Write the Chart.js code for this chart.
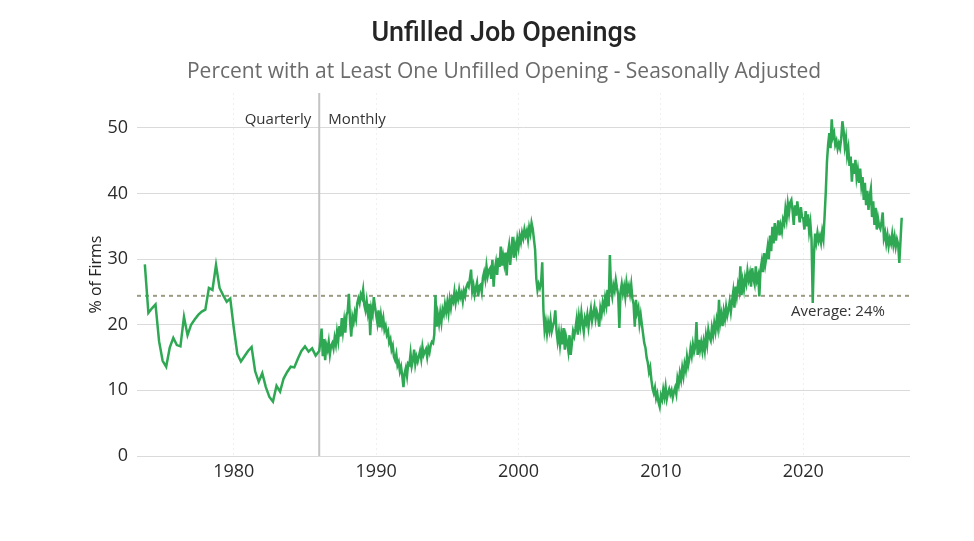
<!DOCTYPE html>
<html>
<head>
<meta charset="utf-8">
<title>Unfilled Job Openings</title>
<script src="https://cdn.jsdelivr.net/npm/chart.js@4.4.1/dist/chart.umd.min.js"></script>
<style>
  body { margin: 0; background: #fff; }
  #newChart { display: block; }
</style>
</head>
<body>
<canvas id="newChart" width="974" height="541"></canvas>
<script>
var titleText = 'Unfilled Job Openings';
var subtitleText = 'Percent with at Least One Unfilled Opening - Seasonally Adjusted';
var yAxisLabel = '% of Firms';

// quarterly survey, Q4 1973 to Q4 1985
var quarterlyStart = 1973.75;
var quarterlyValues = [
  29.2,
  21.8, 22.5, 23.1, 17.5,
  14.5, 13.6, 16.5, 18.0,
  16.9, 16.7, 21.2, 18.4,
  20.0, 20.8, 21.5, 22.0,
  22.3, 25.6, 25.3, 29.1,
  25.6, 24.5, 23.5, 24.0,
  19.5, 15.5, 14.4, 15.2,
  16.0, 16.6, 12.9, 11.3,
  12.6, 10.5, 9.0, 8.3,
  10.7, 9.8, 11.8, 12.8,
  13.6, 13.5, 14.8, 16.0,
  16.7, 15.9, 16.4, 15.3
];

// monthly survey from 1986, one row per year
var monthlyStart = 1986;
var monthlyValues = [
  16.0, 17.5, 19.4, 15.2, 17.8, 14.6, 16.9, 16.2, 17.4, 15.5, 16.8, 17.2,
  16.4, 18.0, 17.0, 18.9, 17.6, 19.8, 18.2, 21.0, 19.0, 20.6, 18.8, 21.5,
  22.0, 24.7, 20.5, 18.2, 21.2, 20.4, 21.8, 20.9, 23.2, 24.0, 23.3, 24.6,
  24.1, 25.3, 23.0, 22.2, 23.6, 21.9, 23.2, 18.4, 22.4, 21.6, 24.2, 22.8,
  21.5, 20.3, 22.2, 19.6, 21.4, 20.0, 21.0, 19.2, 19.8, 18.5, 19.0, 17.3,
  17.8, 16.2, 16.8, 15.1, 14.6, 15.5, 13.8, 14.3, 12.9, 13.6, 12.2, 10.5,
  12.6, 13.4, 12.2, 14.1, 13.9, 15.6, 13.7, 14.6, 16.2, 14.0, 15.1, 14.4,
  15.2, 16.0, 14.8, 16.6, 15.4, 15.9, 16.3, 15.1, 16.5, 15.8, 16.9, 17.4,
  17.2, 18.5, 24.5, 19.7, 21.5, 20.2, 21.8, 20.4, 22.3, 21.6, 23.1, 22.0,
  23.4, 21.9, 23.8, 22.6, 24.0, 23.5, 25.0, 23.4, 24.6, 23.9, 25.3, 24.2,
  24.8, 23.6, 25.1, 24.4, 25.7, 26.2, 25.8, 27.0, 28.4, 25.1, 26.0, 24.6,
  25.6, 26.4, 24.3, 25.9, 26.1, 25.0, 27.2, 28.0, 26.9, 28.9, 27.4, 28.3,
  28.6, 27.0, 29.9, 25.8, 28.4, 29.5, 27.6, 30.2, 28.8, 31.9, 29.0, 30.5,
  29.3, 31.0, 27.5, 30.8, 32.0, 29.1, 31.6, 33.4, 30.2, 32.1, 31.0, 33.0,
  31.8, 33.5, 32.6, 34.0, 33.2, 34.5, 33.6, 34.3, 33.0, 34.8, 33.9, 35.5,
  34.6, 33.0, 31.4, 27.0, 25.3, 26.2, 25.6, 26.4, 29.5, 22.2, 19.2, 20.4,
  18.7, 20.3, 19.2, 20.7, 19.0, 19.8, 20.5, 22.2, 19.1, 17.5, 18.8, 16.9,
  18.6, 17.0, 19.5, 16.2, 18.2, 17.3, 16.0, 18.4, 15.4, 17.2, 19.0, 18.3,
  19.4, 20.8, 18.5, 21.2, 19.9, 21.8, 20.2, 18.9, 21.0, 20.3, 21.5, 19.7,
  21.2, 22.4, 20.6, 21.7, 22.7, 20.9, 22.0, 21.3, 19.7, 22.5, 21.6, 23.3,
  22.4, 24.1, 23.0, 25.3, 22.8, 30.6, 25.4, 24.3, 26.0, 25.2, 26.8, 25.6,
  24.6, 19.5, 25.0, 26.2, 24.8, 25.8, 24.3, 26.4, 25.1, 25.9, 24.7, 26.1,
  24.0, 23.1, 19.7, 23.8, 21.9, 22.6, 20.2, 21.5, 20.0, 18.6, 17.2, 16.5,
  15.0, 14.2, 12.8, 13.5, 11.6, 10.3, 9.6, 10.4, 8.8, 9.5, 8.2, 7.5,
  9.2, 8.6, 10.1, 9.0, 10.5, 8.7, 9.6, 10.2, 9.4, 10.0, 8.9, 9.8,
  10.4, 9.5, 11.8, 10.9, 12.6, 11.6, 13.4, 12.2, 14.0, 13.1, 15.1, 13.8,
  14.8, 16.4, 15.3, 17.0, 15.9, 16.7, 20.4, 15.4, 17.7, 16.2, 17.3, 16.0,
  17.4, 16.1, 18.3, 17.0, 19.2, 18.1, 17.6, 19.5, 18.4, 20.2, 19.0, 20.7,
  19.6, 23.8, 20.3, 21.5, 19.8, 22.0, 20.9, 22.7, 21.4, 22.3, 23.5, 22.0,
  23.6, 25.0, 22.6, 25.8, 24.4, 26.1, 25.2, 28.9, 24.5, 26.6, 25.4, 27.2,
  26.3, 28.2, 26.9, 27.8, 25.8, 28.6, 27.0, 26.2, 28.9, 26.8, 27.5, 24.3,
  28.4, 29.6, 28.0, 30.9, 29.2, 30.4, 31.8, 30.0, 33.6, 31.2, 34.9, 32.4,
  35.5, 32.8, 34.4, 35.9, 33.6, 35.1, 34.2, 36.0, 35.4, 37.6, 36.2, 38.4,
  37.0, 38.6, 39.0, 37.4, 35.2, 38.2, 36.6, 38.8, 37.2, 35.6, 37.9, 36.4,
  36.2, 34.5, 37.3, 35.0, 36.8, 34.2, 35.5, 33.0, 23.3, 30.5, 33.9, 32.6,
  34.0, 32.8, 33.5, 32.5, 34.2, 33.1, 36.5, 40.2, 44.8, 47.5, 49.2, 46.9,
  51.3, 48.6, 49.2, 47.4, 48.0, 46.8, 47.6, 46.9, 48.3, 51.0, 49.6, 47.2,
  48.4, 45.8, 46.9, 44.2, 45.6, 41.8, 44.6, 43.0, 45.1, 42.4, 43.6, 41.6,
  43.8, 41.2, 42.5, 39.0, 41.6, 38.2, 40.4, 37.5, 39.6, 40.7, 36.4, 38.8,
  35.2, 37.8, 34.5, 36.2, 35.0, 34.6, 35.6, 37.1, 33.2, 34.0, 32.4, 33.6,
  32.0, 33.1, 32.4, 33.8, 32.2, 33.4, 31.9, 33.0, 32.3, 29.4, 32.8, 36.3
];

var averageValue = 24.4;
var averageLabel = 'Average: 24%';
var dividerYear = 1986;
var dividerLabels = ['Quarterly', 'Monthly'];

var xTicks = [1980, 1990, 2000, 2010, 2020];
var yTicks = [0, 10, 20, 30, 40, 50];
var xMin = 1973.2;
var xMax = 2027.5;
var yMax = 55.3;

window.onload = pageReady;

function pageReady() {
  var ctx = document.getElementById('newChart');
  var points = [];
  for (let i = 0; i < quarterlyValues.length; i++) {
    points.push({ x: quarterlyStart + i / 4, y: quarterlyValues[i] });
  }
  for (let i = 0; i < monthlyValues.length; i++) {
    points.push({ x: monthlyStart + i / 12, y: monthlyValues[i] });
  }

  // titles and the small annotation texts
  var textPlugin = {
    id: 'texts',
    afterDraw: function(chart) {
      var c = chart.ctx;
      var xs = chart.scales.x;
      var ys = chart.scales.y;
      var area = chart.chartArea;
      c.save();
      c.textBaseline = 'middle';
      c.textAlign = 'center';
      c.fillStyle = '#252525';
      c.font = '500 27px Roboto';
      c.fillText(titleText, 504, 34);
      c.fillStyle = '#6b6b6b';
      c.font = '21px "Open Sans"';
      c.fillText(subtitleText, 504, 72);

      c.fillStyle = '#333';
      c.font = '15px "Open Sans"';
      var dx = xs.getPixelForValue(dividerYear);
      c.textAlign = 'right';
      c.fillText(dividerLabels[0], dx - 8, area.top + 27);
      c.textAlign = 'left';
      c.fillText(dividerLabels[1], dx + 9, area.top + 27);
      c.textAlign = 'center';
      c.fillText(averageLabel, area.right - 72, ys.getPixelForValue(averageValue) + 16);
      c.restore();
    }
  };

  var myChart = new Chart(ctx, {
    type: 'line',
    data: {
      datasets: [{
        data: points,
        borderColor: '#2ea853',
        borderWidth: 2.5,
        pointRadius: 0,
        tension: 0,
        order: 0
      }, {
        data: [{ x: xMin, y: averageValue }, { x: xMax, y: averageValue }],
        borderColor: '#9b9b84',
        borderWidth: 2,
        borderDash: [4, 4],
        pointRadius: 0,
        order: 1
      }, {
        data: [{ x: dividerYear, y: 0 }, { x: dividerYear, y: yMax }],
        borderColor: '#c4c4c4',
        borderWidth: 2,
        pointRadius: 0,
        order: 2
      }]
    },
    options: {
      responsive: false,
      animation: false,
      layout: { padding: { left: 80, right: 64, top: 93, bottom: 55 } },
      plugins: {
        legend: { display: false },
        tooltip: { enabled: false }
      },
      scales: {
        x: {
          type: 'linear',
          min: xMin,
          max: xMax,
          afterBuildTicks: function(s) { s.ticks = xTicks.map(function(v) { return { value: v }; }); },
          afterFit: function(s) { s.height = 30; },
          grid: { color: 'rgba(0,0,0,0.06)', drawTicks: false },
          border: { display: false, dash: [2, 3] },
          ticks: {
            padding: 5,
            color: '#2b2b2b',
            font: { family: 'Open Sans', size: 18 },
            callback: function(v) { return String(v); }
          }
        },
        y: {
          min: 0,
          max: yMax,
          afterBuildTicks: function(s) { s.ticks = yTicks.map(function(v) { return { value: v }; }); },
          afterFit: function(s) { s.width = 57; },
          grid: { color: '#dadada', drawTicks: false },
          border: { display: false },
          title: {
            display: true,
            text: yAxisLabel,
            color: '#222',
            padding: { top: 7, bottom: 0 },
            font: { family: 'Open Sans', size: 16 }
          },
          ticks: {
            padding: 9,
            color: '#2b2b2b',
            font: { family: 'Open Sans', size: 18 }
          }
        }
      }
    },
    plugins: [textPlugin]
  });
}
</script>
</body>
</html>
